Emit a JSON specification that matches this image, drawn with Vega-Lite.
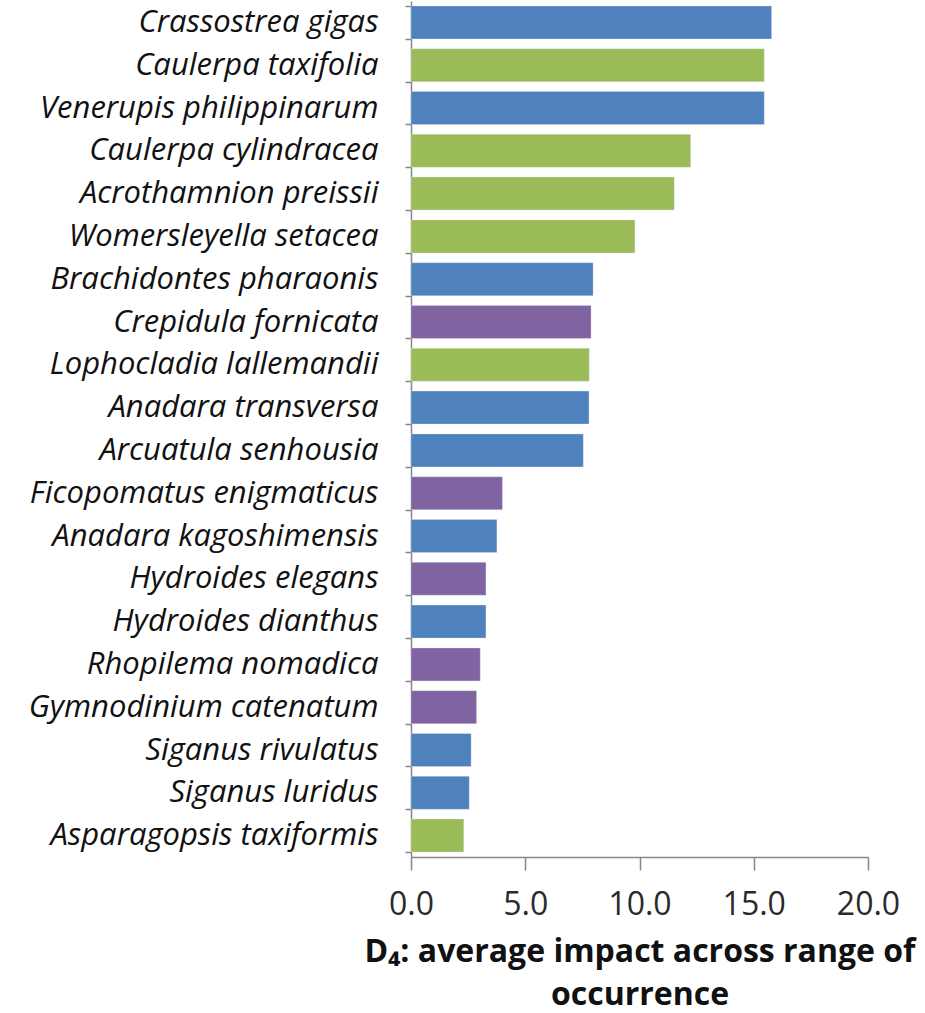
{
  "$schema": "https://vega.github.io/schema/vega-lite/v6.json",
  "width": 457,
  "height": 856,
  "autosize": {"type": "none"},
  "padding": {"left": 411, "top": 1, "right": 57, "bottom": 156},
  "background": "white",
  "config": {
    "view": {"stroke": null},
    "font": "Open Sans"
  },
  "data": {
    "values": [
      {"species": "Crassostrea gigas", "group": "Group 1", "impact": 15.78},
      {"species": "Caulerpa taxifolia", "group": "Group 2", "impact": 15.46},
      {"species": "Venerupis philippinarum", "group": "Group 1", "impact": 15.46},
      {"species": "Caulerpa cylindracea", "group": "Group 2", "impact": 12.24},
      {"species": "Acrothamnion preissii", "group": "Group 2", "impact": 11.52},
      {"species": "Womersleyella setacea", "group": "Group 2", "impact": 9.8},
      {"species": "Brachidontes pharaonis", "group": "Group 1", "impact": 7.97},
      {"species": "Crepidula fornicata", "group": "Group 3", "impact": 7.88},
      {"species": "Lophocladia lallemandii", "group": "Group 2", "impact": 7.8},
      {"species": "Anadara transversa", "group": "Group 1", "impact": 7.79},
      {"species": "Arcuatula senhousia", "group": "Group 1", "impact": 7.54},
      {"species": "Ficopomatus enigmaticus", "group": "Group 3", "impact": 4.0},
      {"species": "Anadara kagoshimensis", "group": "Group 1", "impact": 3.76},
      {"species": "Hydroides elegans", "group": "Group 3", "impact": 3.28},
      {"species": "Hydroides dianthus", "group": "Group 1", "impact": 3.28},
      {"species": "Rhopilema nomadica", "group": "Group 3", "impact": 3.03},
      {"species": "Gymnodinium catenatum", "group": "Group 3", "impact": 2.87},
      {"species": "Siganus rivulatus", "group": "Group 1", "impact": 2.63},
      {"species": "Siganus luridus", "group": "Group 1", "impact": 2.55},
      {"species": "Asparagopsis taxiformis", "group": "Group 2", "impact": 2.31}
    ]
  },
  "mark": {"type": "bar", "strokeWidth": 1, "strokeOpacity": 0.35, "stroke": "#dfe8f3"},
  "encoding": {
    "y": {
      "field": "species",
      "type": "nominal",
      "sort": null,
      "scale": {"paddingInner": 0.23, "paddingOuter": 0.115},
      "axis": {
        "title": null,
        "tickBand": "extent",
        "tickSize": 6,
        "tickColor": "#868686",
        "domainColor": "#868686",
        "domainWidth": 1.5,
        "tickWidth": 1.5,
        "labelFont": "Open Sans",
        "labelFontStyle": "italic",
        "labelFontSize": 31,
        "labelColor": "#111111",
        "labelPadding": 27,
        "labelLimit": 420
      }
    },
    "x": {
      "field": "impact",
      "type": "quantitative",
      "scale": {"domain": [0, 20], "nice": false},
      "axis": {
        "values": [0, 5, 10, 15, 20],
        "format": ".1f",
        "grid": false,
        "tickSize": 13,
        "tickColor": "#868686",
        "domainColor": "#868686",
        "domainWidth": 1.5,
        "tickWidth": 1.5,
        "labelFont": "Open Sans",
        "labelFontSize": 32,
        "labelColor": "#2a2a2a",
        "labelPadding": 19,
        "labelFlush": false,
        "title": ["D₄: average impact across range of", "occurrence"],
        "titleFont": "Open Sans",
        "titleFontSize": 32,
        "titleFontWeight": "bold",
        "titleColor": "#111111",
        "titleLineHeight": 43,
        "titlePadding": 16
      }
    },
    "color": {
      "field": "group",
      "type": "nominal",
      "scale": {"domain": ["Group 1", "Group 2", "Group 3"], "range": ["#4F81BD", "#9BBB59", "#8064A2"]},
      "legend": null
    }
  }
}
